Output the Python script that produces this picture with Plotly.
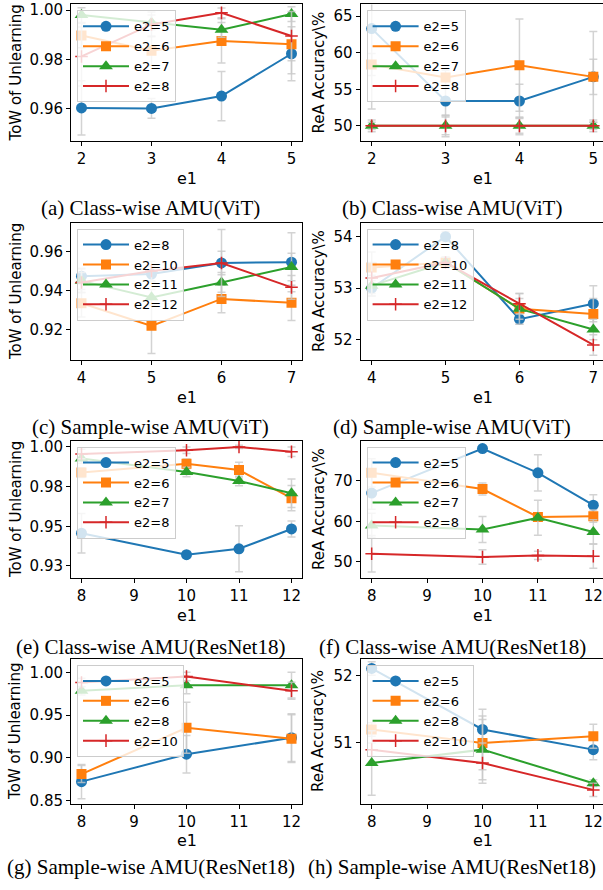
import plotly.graph_objects as go

W, H = 603, 890

# ---------------- data ----------------
# (a) Class-wise AMU(ViT) - ToW
a_x = [2, 3, 4, 5]
a_names = ["e2=5", "e2=6", "e2=7", "e2=8"]
a_y = [[0.9603, 0.9601, 0.9651, 0.9823],
       [0.9897, 0.9835, 0.9875, 0.9862],
       [0.9980, 0.9950, 0.9920, 0.9984],
       [0.9812, 0.9942, 0.9989, 0.9895]]
a_err = [[0.011, 0.004, 0.010, 0.011],
         [0.005, 0.006, 0.009, 0.012],
         [0.003, 0.003, 0.003, 0.003],
         [0.012, 0.005, 0.002, 0.010]]

# (b) Class-wise AMU(ViT) - ReA
b_x = [2, 3, 4, 5]
b_names = ["e2=5", "e2=6", "e2=7", "e2=8"]
b_y = [[63.3, 53.4, 53.4, 56.7],
       [58.4, 56.6, 58.3, 56.7],
       [50.0, 50.0, 50.0, 50.0],
       [50.0, 50.0, 50.0, 50.0]]
b_err = [[11.0, 2.0, 2.3, 2.4],
         [1.5, 1.0, 6.3, 6.2],
         [0.8, 1.5, 1.2, 0.8],
         [0.5, 1.2, 1.0, 0.5]]

# (c) Sample-wise AMU(ViT) - ToW
c_x = [4, 5, 6, 7]
c_names = ["e2=8", "e2=10", "e2=11", "e2=12"]
c_y = [[0.9474, 0.9485, 0.9541, 0.9545],
       [0.9336, 0.9221, 0.9358, 0.9338],
       [0.9450, 0.9366, 0.9442, 0.9521],
       [0.9442, 0.9500, 0.9541, 0.9417]]
c_err = [[0.004, 0.004, 0.006, 0.015],
         [0.007, 0.014, 0.007, 0.009],
         [0.006, 0.004, 0.005, 0.007],
         [0.005, 0.005, 0.017, 0.006]]

# (d) Sample-wise AMU(ViT) - ReA
d_x = [4, 5, 6, 7]
d_names = ["e2=8", "e2=10", "e2=11", "e2=12"]
d_y = [[53.0, 54.0, 52.4, 52.7],
       [53.4, 53.5, 52.6, 52.5],
       [53.05, 53.5, 52.6, 52.2],
       [53.2, 53.5, 52.7, 51.9]]
d_err = [[0.15, 0.1, 0.1, 0.35],
         [0.3, 0.1, 0.3, 0.3],
         [0.2, 0.1, 0.2, 0.2],
         [0.3, 0.1, 0.2, 0.2]]

# (e) Class-wise AMU(ResNet18) - ToW
e_x = [8, 10, 11, 12]
e_names = ["e2=5", "e2=6", "e2=7", "e2=8"]
e_y = [[0.9456, 0.9321, 0.9358, 0.9483],
       [0.9838, 0.9894, 0.9854, 0.9677],
       [0.9927, 0.9842, 0.9785, 0.9708],
       [0.9956, 0.9979, 1.0000, 0.9969]]
e_err = [[0.0125, 0.002, 0.0145, 0.005],
         [0.003, 0.003, 0.005, 0.008],
         [0.003, 0.003, 0.003, 0.009],
         [0.003, 0.002, 0.001, 0.003]]

# (f) Class-wise AMU(ResNet18) - ReA
f_x = [8, 10, 11, 12]
f_names = ["e2=5", "e2=6", "e2=7", "e2=8"]
f_y = [[67.0, 78.0, 72.0, 64.0],
       [72.0, 68.0, 61.1, 61.3],
       [59.0, 58.0, 60.9, 57.4],
       [52.0, 51.2, 51.6, 51.4]]
f_err = [[4.0, 0.5, 4.5, 2.6],
         [3.5, 1.5, 1.0, 1.5],
         [3.0, 3.2, 4.3, 3.0],
         [4.5, 1.8, 1.0, 3.0]]

# (g) Sample-wise AMU(ResNet18) - ToW
g_x = [8, 10, 12]
g_names = ["e2=5", "e2=6", "e2=8", "e2=10"]
g_y = [[0.8721, 0.9043, 0.9236],
       [0.8810, 0.9353, 0.9225],
       [0.9787, 0.9853, 0.9853],
       [0.9884, 0.9953, 0.9787]]
g_err = [[0.020, 0.022, 0.028],
         [0.010, 0.030, 0.028],
         [0.005, 0.010, 0.015],
         [0.005, 0.005, 0.010]]

# (h) Sample-wise AMU(ResNet18) - ReA
h_x = [8, 10, 12]
h_names = ["e2=5", "e2=6", "e2=8", "e2=10"]
h_y = [[52.11, 51.2, 50.9],
       [51.2, 51.0, 51.1],
       [50.7, 50.9, 50.4],
       [50.9, 50.7, 50.3]]
h_err = [[0.1, 0.3, 0.15],
         [0.1, 0.4, 0.18],
         [0.48, 0.45, 0.05],
         [0.1, 0.3, 0.1]]

captions = ["(a) Class-wise AMU(ViT)", "(b) Class-wise AMU(ViT)",
            "(c) Sample-wise AMU(ViT)", "(d) Sample-wise AMU(ViT)",
            "(e) Class-wise AMU(ResNet18)", "(f) Class-wise AMU(ResNet18)",
            "(g) Sample-wise AMU(ResNet18)", "(h) Sample-wise AMU(ResNet18)"]
ytitles = ["ToW of Unlearning", "ReA Accuracy\\%"]

# y ticks per panel
a_yticks = [0.96, 0.98, 1.00]
b_yticks = [50, 55, 60, 65]
c_yticks = [0.92, 0.94, 0.96]
d_yticks = [52, 53, 54]
e_yticks = [0.925, 0.95, 0.975, 1.0]
e_yticklabels = ["0.93", "0.95", "0.98", "1.00"]
f_yticks = [50, 60, 70]
g_yticks = [0.85, 0.90, 0.95, 1.00]
h_yticks = [51, 52]

# ---------------- styling / layout ----------------
COLORS = ["#1f77b4", "#ff7f0e", "#2ca02c", "#d62728"]
SYMBOLS = ["circle", "square", "triangle-up", "cross-thin"]
MSIZES = [11, 10, 12, 9]
FONT = "DejaVu Sans"

rows_px = [(2.5, 140.7), (222.7, 361.7), (442.7, 581.7), (663.0, 809.0)]
cols_px = [(71.0, 302.0), (360.6, 604.4)]
cap_y = [208, 429, 651, 873]
cap_x = [150.5, 452.0]

panels = [
    (a_x, a_names, a_y, a_err, [1.85, 5.15], [0.9467, 1.0023], a_yticks, ["%.2f" % v for v in a_yticks], [2, 3, 4, 5]),
    (b_x, b_names, b_y, b_err, [1.85, 5.15], [47.87, 66.6], b_yticks, [str(v) for v in b_yticks], [2, 3, 4, 5]),
    (c_x, c_names, c_y, c_err, [3.85, 7.15], [0.9045, 0.9746], c_yticks, ["%.2f" % v for v in c_yticks], [4, 5, 6, 7]),
    (d_x, d_names, d_y, d_err, [3.85, 7.15], [51.6, 54.27], d_yticks, [str(v) for v in d_yticks], [4, 5, 6, 7]),
    (e_x, e_names, e_y, e_err, [7.8, 12.2], [0.9171, 1.0039], e_yticks, e_yticklabels, [8, 9, 10, 11, 12]),
    (f_x, f_names, f_y, f_err, [7.8, 12.2], [45.9, 79.94], f_yticks, [str(v) for v in f_yticks], [8, 9, 10, 11, 12]),
    (g_x, g_names, g_y, g_err, [7.8, 12.2], [0.8462, 1.0159], g_yticks, ["%.2f" % v for v in g_yticks], [8, 9, 10, 11, 12]),
    (h_x, h_names, h_y, h_err, [7.8, 12.2], [50.094, 52.25], h_yticks, [str(v) for v in h_yticks], [8, 9, 10, 11, 12]),
]

fig = go.Figure()
layout = dict(width=W, height=H, margin=dict(l=0, r=0, t=0, b=0),
              paper_bgcolor="white", plot_bgcolor="white", showlegend=True,
              annotations=[])

for i, (xs, names, ys, errs, xr, yr, ytv, ytt, xtv) in enumerate(panels):
    r, c = divmod(i, 2)
    top, bot = rows_px[r]
    left, right = cols_px[c]
    vis_right = min(right, W)
    xr_vis = [xr[0], xr[0] + (vis_right - left) / (right - left) * (xr[1] - xr[0])]
    suf = "" if i == 0 else str(i + 1)
    leg = "legend" + suf
    for k in range(len(names)):
        fig.add_trace(go.Scatter(
            x=xs, y=ys[k], name=names[k], mode="lines+markers",
            xaxis="x" + suf, yaxis="y" + suf, legend=leg,
            line=dict(color=COLORS[k], width=2),
            marker=dict(symbol=SYMBOLS[k], size=MSIZES[k], color=COLORS[k],
                        line=dict(color=COLORS[k], width=1.5 if k == 3 else 0)),
            error_y=dict(type="data", array=errs[k], color="rgba(200,200,200,0.8)",
                         thickness=1.5, width=4),
        ))
    axis_common = dict(showline=True, linecolor="black", linewidth=1,
                       ticks="outside", ticklen=4, tickcolor="black", tickwidth=1,
                       showgrid=False, zeroline=False,
                       tickfont=dict(family=FONT, size=15, color="black"))
    layout["xaxis" + suf] = dict(axis_common, domain=[left / W, vis_right / W],
                                 range=xr_vis, tickvals=xtv, ticktext=[str(v) for v in xtv],
                                 anchor="y" + suf, mirror=True)
    layout["yaxis" + suf] = dict(axis_common, domain=[1 - bot / H, 1 - top / H],
                                 range=yr, tickvals=ytv, ticktext=ytt,
                                 anchor="x" + suf, mirror=(c == 0))
    layout[leg] = dict(x=(left + 6) / W, y=1 - (top + 6) / H, xanchor="left", yanchor="top",
                       bgcolor="rgba(255,255,255,0.8)", bordercolor="#cccccc", borderwidth=1,
                       font=dict(family=FONT, size=13, color="black"),
                       tracegroupgap=0, itemwidth=46)
    # axis titles
    layout["annotations"].append(dict(
        text="e1", x=(left + right) / 2 / W, y=1 - (bot + 37) / H, xref="paper", yref="paper",
        showarrow=False, xanchor="center", yanchor="middle",
        font=dict(family=FONT, size=16, color="black")))
    layout["annotations"].append(dict(
        text=ytitles[c], x=(15.5 if c == 0 else 318.5) / W, y=1 - (top + bot) / 2 / H,
        xref="paper", yref="paper", showarrow=False, textangle=-90,
        xanchor="center", yanchor="middle",
        font=dict(family=FONT, size=15, color="black")))
    layout["annotations"].append(dict(
        text=captions[i], x=cap_x[c] / W, y=1 - cap_y[r] / H, xref="paper", yref="paper",
        showarrow=False, xanchor="center", yanchor="middle",
        font=dict(family="Liberation Serif", size=21, color="black")))

fig.update_layout(**layout)
fig.write_html(
    "out.html",
    config={"displayModeBar": False},
    post_script="document.body.style.margin='0px';document.body.style.padding='0px';"
                "document.documentElement.style.overflow='hidden';document.body.style.overflow='hidden';",
)
